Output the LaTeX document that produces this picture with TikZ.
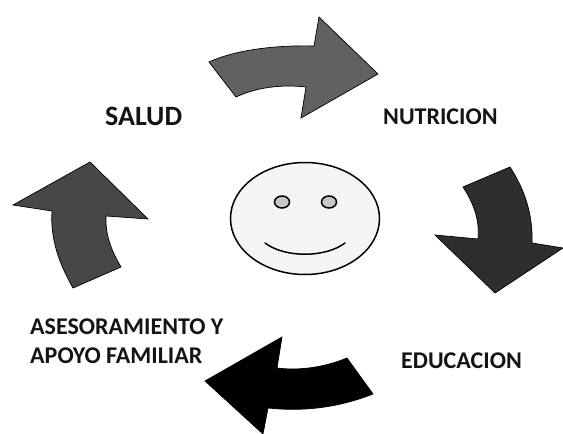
\documentclass[tikz,border=0pt]{standalone}
\usepackage{fontspec}
\usetikzlibrary{shapes.geometric}
\setmainfont{Carlito}
\tikzset{lab/.style={font=\bfseries\fontsize{24pt}{29pt}\selectfont,text=black!92,align=left,inner sep=0pt},
arrowshape/.style={draw=black,line width=0.7pt,line join=miter},
faceline/.style={draw=black,line width=1.5pt}}
\begin{document}
\begin{tikzpicture}[x=1pt,y=-1pt]
\useasboundingbox (0,0) rectangle (563,434);
% top arrow
\draw[arrowshape,fill=black!62] (209,62) .. controls (235,50) and (275,45) .. (314,46) -- (319,17) -- (378,74) -- (301,118) -- (306,87) .. controls (280,84) and (255,88) .. (236,97) -- cycle;
% right arrow
\draw[arrowshape,fill=black!82] (463,187) -- (510,167) .. controls (525,190) and (533,215) .. (532,243) -- (563,248) -- (495,293) -- (435,235) -- (478,239) .. controls (480,220) and (473,202) .. (463,187) -- cycle;
% bottom arrow
\draw[arrowshape,fill=black] (347,358) -- (373,394) .. controls (340,407) and (305,412) .. (268,408) -- (263,434) -- (205,381) -- (282,337) -- (277,368) .. controls (300,371) and (325,367) .. (347,358) -- cycle;
% left arrow
\draw[arrowshape,fill=black!72] (73,288) .. controls (60,265) and (50,240) .. (52,211) -- (13,205) -- (90,162) -- (148,219) -- (106,216) .. controls (105,235) and (112,252) .. (121,267) -- cycle;
% face
\node[faceline,fill=black!4,ellipse,minimum width=149,minimum height=112,inner sep=0pt] (face) at (305,218.5) {};
\node[faceline,fill=black!22,ellipse,minimum width=15,minimum height=12,inner sep=0pt] (eyeL) at (282,202) {};
\node[faceline,fill=black!22,ellipse,minimum width=15,minimum height=12,inner sep=0pt] (eyeR) at (329,202) {};
\draw[faceline,line cap=round] (265,243) .. controls (285,258) and (325,258) .. (345,243);
\node[lab,font=\bfseries\fontsize{28pt}{32pt}\selectfont,anchor=west] (salud) at (105,116) {SALUD};
\node[lab,anchor=west] (nutricion) at (383,117) {NUTRICION};
\node[lab,anchor=west] (educacion) at (401,361) {EDUCACION};
\node[lab,anchor=west] (ase) at (30,341) {ASESORAMIENTO Y\\APOYO FAMILIAR};
\end{tikzpicture}
\end{document}
